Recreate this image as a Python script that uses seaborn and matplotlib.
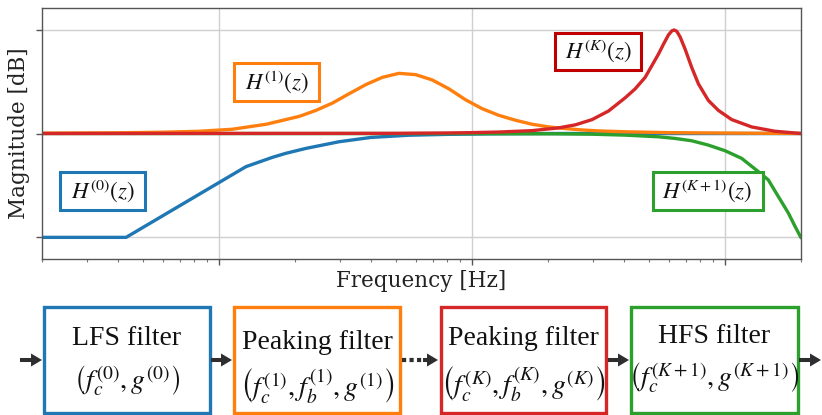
import numpy as np
import pandas as pd
import matplotlib
matplotlib.use("Agg")
import matplotlib.pyplot as plt
import seaborn as sns
from matplotlib.patches import Rectangle, FancyArrowPatch
from matplotlib.ticker import LogLocator, NullFormatter

# ---------------- data ----------------
freq_lfs = [20, 43, 128, 163, 184, 221, 299, 400, 564, 800, 1200, 2000, 20000]
db_lfs = [-12, -12, -3.83, -2.75, -2.29, -1.72, -0.95, -0.45, -0.2, -0.1, -0.04, 0, 0]

freq_pk1 = [20, 40, 60, 84, 113, 154, 208, 242, 281, 327, 381, 443, 515, 600, 697, 812, 944,
            1098, 1278, 1488, 1729, 2012, 2342, 2723, 3170, 4000, 6000, 10000, 20000]
db_pk1 = [0.03, 0.08, 0.15, 0.26, 0.49, 1.07, 1.98, 2.67, 3.51, 4.59, 5.65, 6.49, 6.95, 6.8,
          6.19, 5.16, 3.9, 2.87, 2.1, 1.53, 1.07, 0.76, 0.57, 0.41, 0.3, 0.2, 0.1, 0.05, 0.0]

freq_pkK = [20, 500, 800, 1000, 1280, 1730, 2204, 2565, 2983, 3470, 4039, 4422, 4843, 5145,
            5465, 5721, 5986, 6170, 6303, 6457, 6655, 6966, 7396, 7864, 8606, 9428, 10640,
            12760, 15770, 20000]
db_pkK = [0, 0.02, 0.06, 0.1, 0.17, 0.33, 0.65, 1.0, 1.6, 2.6, 4.13, 5.16, 6.49, 7.83,
          9.17, 10.32, 11.39, 11.85, 11.96, 11.81, 11.16, 9.75, 7.64, 5.73, 3.82, 2.67, 1.61,
          0.76, 0.26, 0.0]

freq_hfs = [20, 1000, 2204, 2983, 4039, 5465, 6363, 7396, 8606, 10020, 11650, 13560, 14850,
            16260, 17810, 18920, 20000]
db_hfs = [0, -0.01, -0.04, -0.08, -0.19, -0.38, -0.57, -0.84, -1.34, -1.99, -2.87, -4.4,
          -5.36, -7.27, -9.17, -10.7, -12.04]

curve_names = ["LFS", "HFS", "PK1", "PKK"]          # drawing order
curve_colors = {"LFS": "#1f77b4", "HFS": "#2ca02c", "PK1": "#ff7f0e", "PKK": "#d62728"}
y_ticks = [-12, 0, 12]
x_lim = (20, 20000)
y_lim = (-14.5, 14.5)

plot_labels = [r"$H^{(0)}(z)$", r"$H^{(1)}(z)$", r"$H^{(K)}(z)$", r"$H^{(K+1)}(z)$"]
block_titles = ["LFS filter", "Peaking filter", "Peaking filter", "HFS filter"]
block_params = [r"$\left(f_c^{(0)},g^{(0)}\right)$",
                r"$\left(f_c^{(1)},f_b^{(1)},g^{(1)}\right)$",
                r"$\left(f_c^{(K)},f_b^{(K)},g^{(K)}\right)$",
                r"$\left(f_c^{(K+1)},g^{(K+1)}\right)$"]

df = pd.concat([
    pd.DataFrame({"freq": freq_lfs, "db": db_lfs, "curve": "LFS"}),
    pd.DataFrame({"freq": freq_hfs, "db": db_hfs, "curve": "HFS"}),
    pd.DataFrame({"freq": freq_pk1, "db": db_pk1, "curve": "PK1"}),
    pd.DataFrame({"freq": freq_pkK, "db": db_pkK, "curve": "PKK"}),
], ignore_index=True)

# ---------------- style ----------------
sns.set_theme(style="whitegrid")
plt.rcParams["font.family"] = ["DejaVu Serif"]
plt.rcParams["mathtext.fontset"] = "stix"

W, H = 822, 415
fig = plt.figure(figsize=(W / 100, H / 100), dpi=100)
ax = fig.add_axes([42 / W, 1 - 259 / H, (801 - 42) / W, (259 - 8) / H])

sns.lineplot(data=df, x="freq", y="db", hue="curve", hue_order=curve_names,
             palette=curve_colors, estimator=None, sort=True, legend=False,
             linewidth=2.4, ax=ax)
for ln in ax.lines:
    ln.set_solid_joinstyle("round")
    ln.set_solid_capstyle("round")

ax.set_xscale("log")
ax.set_xlim(*x_lim)
ax.set_ylim(*y_lim)
ax.set_yticks(y_ticks)
ax.xaxis.set_major_locator(LogLocator(base=10))
ax.xaxis.set_minor_locator(LogLocator(base=10, subs=np.arange(2, 10)))
for axis in (ax.xaxis, ax.yaxis):
    axis.set_major_formatter(NullFormatter())
    axis.set_minor_formatter(NullFormatter())
ax.tick_params(axis="both", which="major", length=4, width=1, color="#555555",
               left=True, bottom=True)
ax.tick_params(axis="x", which="minor", length=2.5, width=0.8, color="#777777", bottom=True)
ax.grid(True, which="major", color="#cfcfcf", linewidth=1)
ax.grid(False, which="minor")
for s in ax.spines.values():
    s.set_color("#555555")
    s.set_linewidth(1.0)

ax.set_xlabel("Frequency [Hz]", fontsize=15.5, color="#222222")
ax.xaxis.set_label_coords(0.5, -0.044)
ax.set_ylabel("Magnitude [dB]", fontsize=15.5, color="#222222")
ax.yaxis.set_label_coords(-0.016, 0.5)

# ---------------- overlay in pixel coordinates ----------------
ov = fig.add_axes([0, 0, 1, 1])
ov.set_xlim(0, W)
ov.set_ylim(H, 0)
ov.axis("off")
ov.patch.set_alpha(0)


def box(x0, x1, y0, y1, color, lw):
    ov.add_patch(Rectangle((x0, y0), x1 - x0, y1 - y0, facecolor="white",
                           edgecolor=color, linewidth=lw, zorder=3))


# labels inside the plot
label_boxes = [(60, 145, 172.5, 210.5, "#1f77b4"),
               (234, 319, 63.5, 101.5, "#ff7f0e"),
               (555, 641, 33, 70.5, "#c00000"),
               (652.5, 762.5, 172.3, 210.5, "#2ca02c")]
for (x0, x1, y0, y1, c), t in zip(label_boxes, plot_labels):
    box(x0, x1, y0, y1, c, 2.2)
    ov.text((x0 + x1) / 2, (y0 + y1) / 2, t, fontsize=16.5, ha="center", va="center",
            color="#111111", zorder=4)

# block diagram
blocks = [(43.5, 210, "#1f77b4", 345, 381),
          (234, 400, "#ff7f0e", 349, 385),
          (441, 606, "#d62728", 345, 383),
          (631, 797.5, "#2ca02c", 343, 378)]
for (x0, x1, c, yb, yc), t1, t2 in zip(blocks, block_titles, block_params):
    box(x0, x1, 306.5, 412.5, c, 2.4)
    ov.text((x0 + x1) / 2, yb, t1, fontsize=20, family="Liberation Serif",
            ha="center", va="baseline", color="#111111", zorder=4)
    ov.text((x0 + x1) / 2, yc, t2, fontsize=20, ha="center", va="center",
            color="#111111", zorder=4)

arrow_col = "#2e2e2e"


def arrow(xa, xb, y=360):
    ov.add_patch(FancyArrowPatch((xa, y), (xb, y),
                                 arrowstyle="simple,head_length=0.79,head_width=0.94,tail_width=0.29",
                                 mutation_scale=10, shrinkA=0, shrinkB=0,
                                 color=arrow_col, lw=0, zorder=5))


arrow(20, 42)
arrow(211, 232)
ov.plot([402, 424], [360, 360], color=arrow_col, lw=3, linestyle=(0, (1, 0.8)),
        solid_capstyle="butt", dash_capstyle="butt", zorder=5)
arrow(423, 438)
arrow(608, 629)
arrow(799, 821)

fig.savefig("out.png", dpi=100)
